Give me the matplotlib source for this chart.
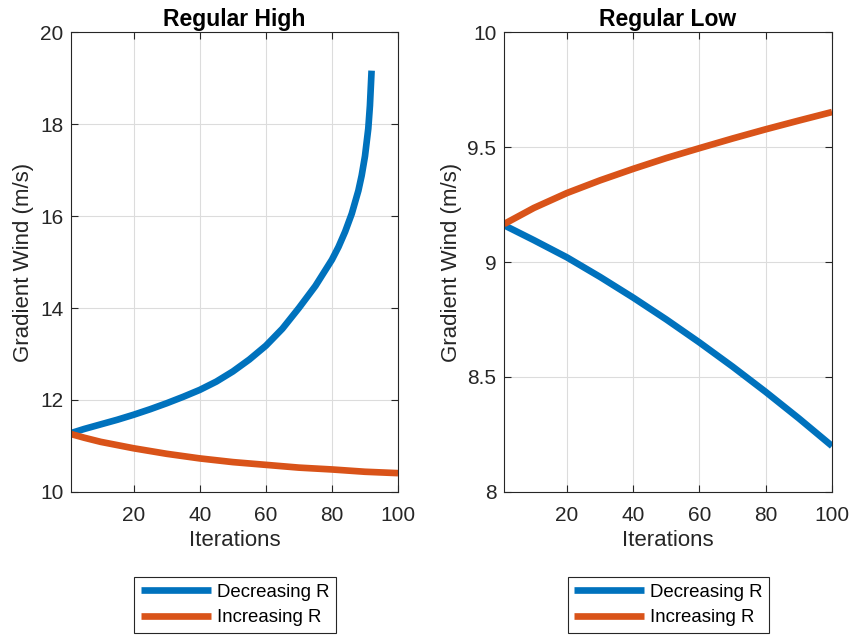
import matplotlib.pyplot as plt

plt.rcParams['font.family'] = ['Liberation Sans', 'DejaVu Sans']

# Regular High
high_dec_x = [1, 5, 10, 15, 20, 25, 30, 35, 40, 45, 50, 55, 60, 65, 70, 75, 80,
              82, 84, 86, 88, 89, 90, 91, 91.5, 92]
high_dec_y = [11.28, 11.37, 11.47, 11.57, 11.68, 11.80, 11.93, 12.07, 12.22, 12.40,
              12.62, 12.88, 13.18, 13.55, 14.00, 14.48, 15.05, 15.33, 15.66, 16.05,
              16.55, 16.88, 17.30, 17.90, 18.40, 19.16]
high_inc_x = [1, 5, 10, 15, 20, 30, 40, 50, 60, 70, 80, 90, 100]
high_inc_y = [11.26, 11.18, 11.09, 11.02, 10.95, 10.83, 10.73, 10.65, 10.59, 10.53,
              10.49, 10.44, 10.41]

# Regular Low
low_x = [1, 10, 20, 30, 40, 50, 60, 70, 80, 90, 100]
low_dec_y = [9.16, 9.095, 9.02, 8.935, 8.845, 8.75, 8.65, 8.545, 8.435, 8.32, 8.20]
low_inc_y = [9.165, 9.235, 9.30, 9.355, 9.405, 9.452, 9.495, 9.537, 9.577, 9.615, 9.652]

blue = '#0072BD'
orange = '#D95319'
dark = '#262626'

fig = plt.figure(figsize=(8.53, 6.35), dpi=100)
ax1 = fig.add_axes([0.0832, 0.2252, 0.3834, 0.7244])
ax2 = fig.add_axes([0.5909, 0.2252, 0.3845, 0.7244])

ax1.plot(high_dec_x, high_dec_y, color=blue, lw=4.8, label='Decreasing R', solid_capstyle='butt')
ax1.plot(high_inc_x, high_inc_y, color=orange, lw=4.8, label='Increasing R', solid_capstyle='butt')
ax1.set_ylim(10, 20)
ax1.set_yticks([10, 12, 14, 16, 18, 20])
ax1.set_title('Regular High', fontsize=16.5, fontweight='bold', pad=4)

ax2.plot(low_x, low_dec_y, color=blue, lw=4.8, label='Decreasing R', solid_capstyle='butt')
ax2.plot(low_x, low_inc_y, color=orange, lw=4.8, label='Increasing R', solid_capstyle='butt')
ax2.set_ylim(8, 10)
ax2.set_yticks([8, 8.5, 9, 9.5, 10])
ax2.set_yticklabels(['8', '8.5', '9', '9.5', '10'])
ax2.set_title('Regular Low', fontsize=16.5, fontweight='bold', pad=4)

for ax, cx in [(ax1, 0.2755), (ax2, 0.7837)]:
    ax.set_xlim(1, 100)
    ax.set_xticks([20, 40, 60, 80, 100])
    ax.grid(True, color='#dcdcdc', lw=0.8)
    ax.set_axisbelow(True)
    ax.tick_params(direction='in', top=True, right=True, labelsize=15,
                   colors=dark, length=5, width=0.8)
    ax.tick_params(axis='x', pad=10)
    ax.tick_params(axis='y', pad=5.5)
    for s in ax.spines.values():
        s.set_color(dark)
        s.set_linewidth(0.8)
    ax.set_xlabel('Iterations', fontsize=16, color=dark, labelpad=4)
    ax.set_ylabel('Gradient Wind (m/s)', fontsize=16, color=dark, labelpad=4)
    leg = ax.legend(loc='center', bbox_to_anchor=(cx, 0.0472), bbox_transform=fig.transFigure,
                    fontsize=13.4, fancybox=False, edgecolor=dark, framealpha=1,
                    handlelength=3.74, handletextpad=0.32, borderpad=0.37, labelspacing=0.45)
    leg.get_frame().set_linewidth(0.8)

fig.savefig('out.png', dpi=100)
